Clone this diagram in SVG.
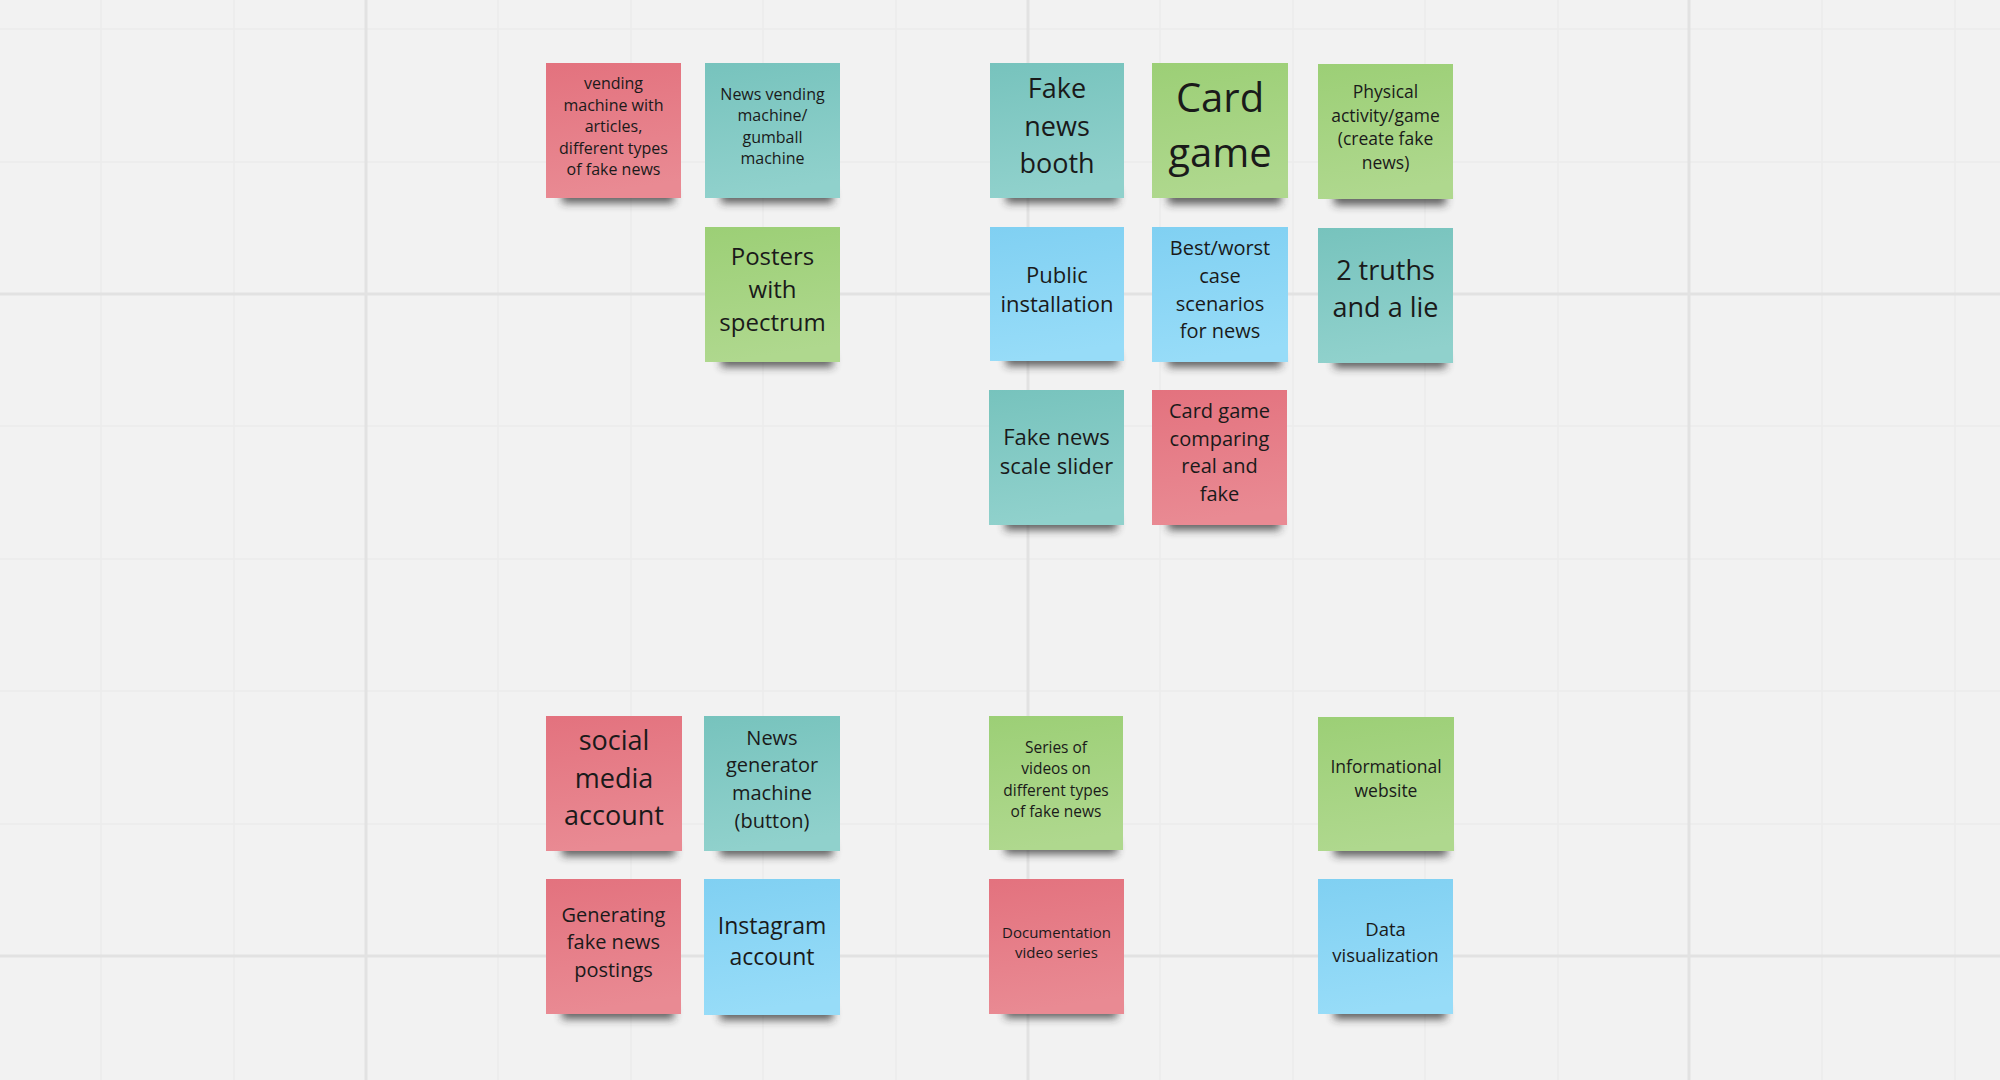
<svg xmlns="http://www.w3.org/2000/svg" width="2000" height="1080" viewBox="0 0 2000 1080">
<defs>
<style>
.minor{stroke:#ebebeb;stroke-width:1.5}
.major{stroke:#e2e2e2;stroke-width:3}
.t{font-family:"Open Sans","Noto Sans","Liberation Sans",sans-serif;fill:#1a1a1a;text-anchor:middle}
.sh{fill:#2a2a2a;opacity:.75;filter:url(#blur)}
.pink{fill:url(#gPink)}
.teal{fill:url(#gTeal)}
.green{fill:url(#gGreen)}
.blue{fill:url(#gBlue)}
</style>
<filter id="blur" x="-20%" y="-100%" width="140%" height="300%"><feGaussianBlur stdDeviation="4"/></filter>
<linearGradient id="gPink" x1="0" y1="0" x2="0.15" y2="1"><stop offset="0" stop-color="#e3727e"/><stop offset="1" stop-color="#e98a93"/></linearGradient>
<linearGradient id="gTeal" x1="0" y1="0" x2="0.15" y2="1"><stop offset="0" stop-color="#77c3bd"/><stop offset="1" stop-color="#90d1cc"/></linearGradient>
<linearGradient id="gGreen" x1="0" y1="0" x2="0.15" y2="1"><stop offset="0" stop-color="#9ccf76"/><stop offset="1" stop-color="#afd88e"/></linearGradient>
<linearGradient id="gBlue" x1="0" y1="0" x2="0.15" y2="1"><stop offset="0" stop-color="#80d0f2"/><stop offset="1" stop-color="#97dcf8"/></linearGradient>
</defs>
<rect width="2000" height="1080" fill="#f2f2f2"/>
<g id="grid">
<path class="minor" d="M101 0V1080M234 0V1080M498 0V1080M631 0V1080M763 0V1080M896 0V1080M1160 0V1080M1293 0V1080M1425 0V1080M1558 0V1080M1822 0V1080M1955 0V1080M0 29H2000M0 162H2000M0 426H2000M0 559H2000M0 691H2000M0 824H2000"/>
<path class="major" d="M366 0V1080M1028 0V1080M1689 0V1080M0 294H2000M0 956H2000"/>
</g>
<g id="notes">
<g id="n1"><rect class="sh" x="562" y="190" width="112" height="13"/><rect class="pink" x="546" y="63" width="135" height="135"/>
<text class="t" font-size="16"><tspan x="613.5" y="89">vending</tspan><tspan x="613.5" y="110.5">machine with</tspan><tspan x="613.5" y="132">articles,</tspan><tspan x="613.5" y="153.5">different types</tspan><tspan x="613.5" y="175">of fake news</tspan></text></g>
<g id="n2"><rect class="sh" x="721" y="190" width="112" height="13"/><rect class="teal" x="705" y="63" width="135" height="135"/>
<text class="t" font-size="16"><tspan x="772.5" y="99.5">News vending</tspan><tspan x="772.5" y="121">machine/</tspan><tspan x="772.5" y="143">gumball</tspan><tspan x="772.5" y="164">machine</tspan></text></g>
<g id="n3"><rect class="sh" x="1006" y="190" width="112" height="13"/><rect class="teal" x="990" y="63" width="134" height="135"/>
<text class="t" font-size="27"><tspan x="1057" y="98">Fake</tspan><tspan x="1057" y="136">news</tspan><tspan x="1057" y="173">booth</tspan></text></g>
<g id="n4"><rect class="sh" x="1168" y="191" width="113" height="13"/><rect class="green" x="1152" y="63" width="136" height="135"/>
<text class="t" font-size="40"><tspan x="1220" y="112">Card</tspan><tspan x="1220" y="167">game</tspan></text></g>
<g id="n5"><rect class="sh" x="1334" y="192" width="112" height="13"/><rect class="green" x="1318" y="64" width="135" height="135"/>
<text class="t" font-size="17.5"><tspan x="1385.5" y="98">Physical</tspan><tspan x="1385.5" y="121.5">activity/game</tspan><tspan x="1385.5" y="145">(create fake</tspan><tspan x="1385.5" y="168.5">news)</tspan></text></g>
<g id="n6"><rect class="sh" x="721" y="354" width="112" height="13"/><rect class="green" x="705" y="227" width="135" height="135"/>
<text class="t" font-size="24"><tspan x="772.5" y="265">Posters</tspan><tspan x="772.5" y="298">with</tspan><tspan x="772.5" y="331">spectrum</tspan></text></g>
<g id="n7"><rect class="sh" x="1006" y="353" width="112" height="13"/><rect class="blue" x="990" y="227" width="134" height="134"/>
<text class="t" font-size="22"><tspan x="1057" y="283">Public</tspan><tspan x="1057" y="312">installation</tspan></text></g>
<g id="n8"><rect class="sh" x="1168" y="354" width="113" height="13"/><rect class="blue" x="1152" y="227" width="136" height="135"/>
<text class="t" font-size="20"><tspan x="1220" y="255">Best/worst</tspan><tspan x="1220" y="283">case</tspan><tspan x="1220" y="311">scenarios</tspan><tspan x="1220" y="338">for news</tspan></text></g>
<g id="n9"><rect class="sh" x="1334" y="355" width="112" height="13"/><rect class="teal" x="1318" y="228" width="135" height="135"/>
<text class="t" font-size="27"><tspan x="1385.5" y="280">2 truths</tspan><tspan x="1385.5" y="317">and a lie</tspan></text></g>
<g id="n10"><rect class="sh" x="1005" y="517" width="112" height="13"/><rect class="teal" x="989" y="390" width="135" height="135"/>
<text class="t" font-size="22"><tspan x="1056.5" y="445">Fake news</tspan><tspan x="1056.5" y="474">scale slider</tspan></text></g>
<g id="n11"><rect class="sh" x="1168" y="517" width="112" height="13"/><rect class="pink" x="1152" y="390" width="135" height="135"/>
<text class="t" font-size="20"><tspan x="1219.5" y="418">Card game</tspan><tspan x="1219.5" y="446">comparing</tspan><tspan x="1219.5" y="473">real and</tspan><tspan x="1219.5" y="501">fake</tspan></text></g>
<g id="n12"><rect class="sh" x="562" y="843" width="113" height="13"/><rect class="pink" x="546" y="716" width="136" height="135"/>
<text class="t" font-size="27"><tspan x="614" y="750">social</tspan><tspan x="614" y="788">media</tspan><tspan x="614" y="825">account</tspan></text></g>
<g id="n13"><rect class="sh" x="720" y="843" width="113" height="13"/><rect class="teal" x="704" y="716" width="136" height="135"/>
<text class="t" font-size="20"><tspan x="772" y="745">News</tspan><tspan x="772" y="772">generator</tspan><tspan x="772" y="800">machine</tspan><tspan x="772" y="828">(button)</tspan></text></g>
<g id="n14"><rect class="sh" x="562" y="1006" width="112" height="13"/><rect class="pink" x="546" y="879" width="135" height="135"/>
<text class="t" font-size="20"><tspan x="613.5" y="922">Generating</tspan><tspan x="613.5" y="949">fake news</tspan><tspan x="613.5" y="977">postings</tspan></text></g>
<g id="n15"><rect class="sh" x="720" y="1007" width="113" height="13"/><rect class="blue" x="704" y="879" width="136" height="136"/>
<text class="t" font-size="23"><tspan x="772" y="934">Instagram</tspan><tspan x="772" y="965">account</tspan></text></g>
<g id="n16"><rect class="sh" x="1005" y="841" width="112" height="13"/><rect class="green" x="989" y="716" width="134" height="134"/>
<text class="t" font-size="15.5"><tspan x="1056" y="753">Series of</tspan><tspan x="1056" y="774">videos on</tspan><tspan x="1056" y="796">different types</tspan><tspan x="1056" y="817">of fake news</tspan></text></g>
<g id="n17"><rect class="sh" x="1005" y="1005" width="112" height="13"/><rect class="pink" x="989" y="879" width="135" height="135"/>
<text class="t" font-size="15"><tspan x="1056.5" y="938">Documentation</tspan><tspan x="1056.5" y="958">video series</tspan></text></g>
<g id="n18"><rect class="sh" x="1334" y="843" width="113" height="13"/><rect class="green" x="1318" y="717" width="136" height="134"/>
<text class="t" font-size="17.5"><tspan x="1386" y="773">Informational</tspan><tspan x="1386" y="797">website</tspan></text></g>
<g id="n19"><rect class="sh" x="1334" y="1006" width="112" height="13"/><rect class="blue" x="1318" y="879" width="135" height="135"/>
<text class="t" font-size="18.5"><tspan x="1385.5" y="936">Data</tspan><tspan x="1385.5" y="962">visualization</tspan></text></g>
</g>
</svg>
